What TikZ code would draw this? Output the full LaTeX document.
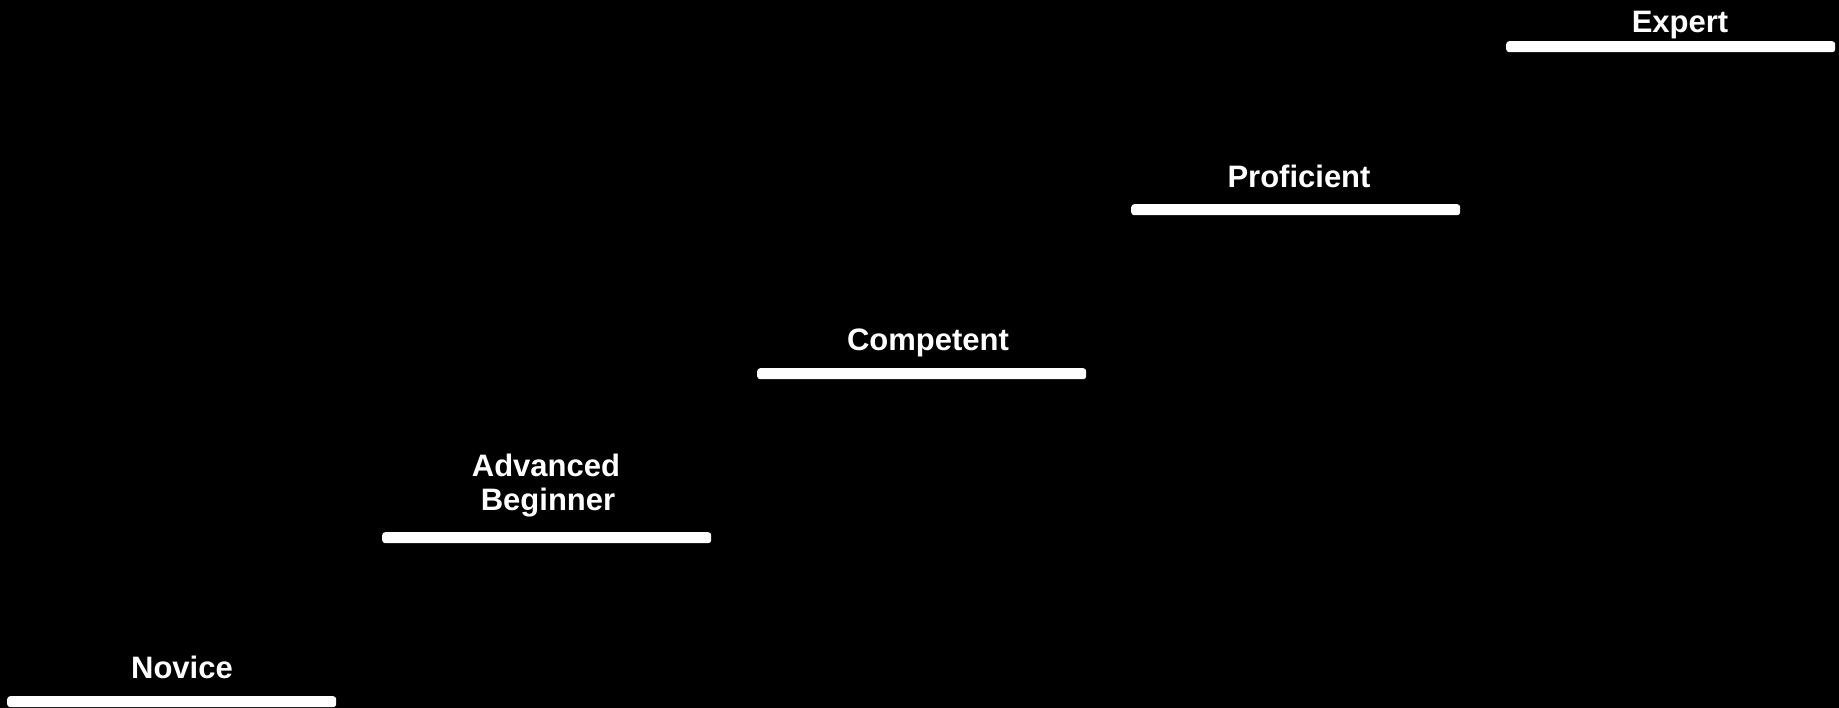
\documentclass[tikz,border=0pt]{standalone}
\usepackage{fontspec}
\setmainfont{Liberation Sans}
\begin{document}
\begin{tikzpicture}[x=1pt,y=-1pt,
  stepbar/.style={fill=white, draw=none, rounded corners=3pt, inner sep=0pt,
    minimum width=329pt, minimum height=11pt, anchor=north west},
  steplabel/.style={text=white, font=\bfseries\fontsize{31}{34.5}\selectfont,
    anchor=base, inner sep=0pt, align=center}]
  % canvas
  \fill[black] (0,0) rectangle (1839,708);
  \useasboundingbox (0,0) rectangle (1839,708);

  % staircase of levels
  \node[stepbar] (novicebar)     at (7,696)    {};
  \node[stepbar] (advancedbar)   at (382,532)  {};
  \node[stepbar] (competentbar)  at (757,368)  {};
  \node[stepbar] (proficientbar) at (1131,204) {};
  \node[stepbar] (expertbar)     at (1506,41)  {};

  % level names (base = baseline of the last line)
  \node[steplabel] (novice)     at (182,678)  {Novice};
  \node[steplabel] (advanced)   at (546,510.5)
    {Advanced\hspace{4pt}\\\hspace{4pt}Beginner};
  \node[steplabel] (competent)  at (928,351)  {Competent};
  \node[steplabel] (proficient) at (1299,188) {Proficient};
  \node[steplabel] (expert)     at (1680,33)  {Expert};
\end{tikzpicture}
\end{document}
